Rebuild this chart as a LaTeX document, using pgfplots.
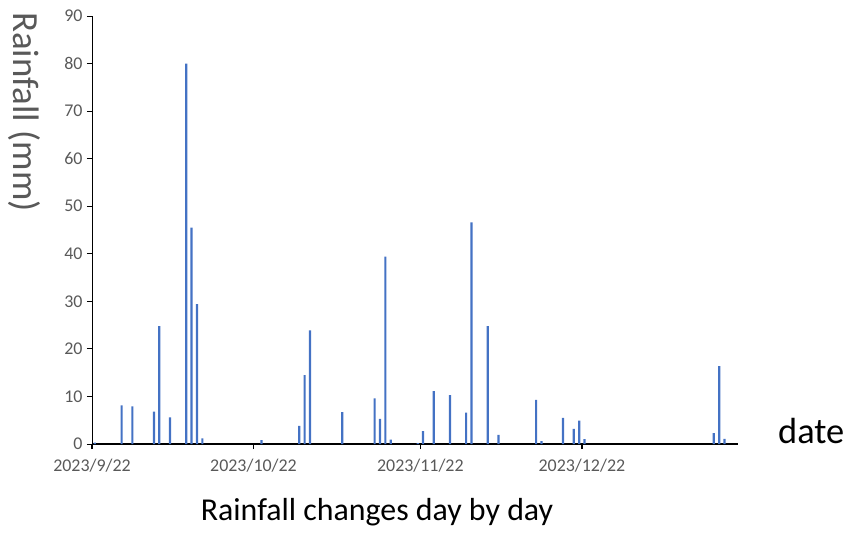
\documentclass[border=0pt]{standalone}
\usepackage{pgfplots}
\pgfplotsset{compat=1.18}
\usepackage{fontspec}
\setmainfont{Carlito}
\definecolor{barblue}{HTML}{4472C4}
\definecolor{ticklab}{HTML}{595959}
\begin{document}
\begin{tikzpicture}
\useasboundingbox (-92bp,-94bp) rectangle (754bp,444bp);
\begin{axis}[
  at={(0bp,0bp)}, anchor=south west,
  scale only axis, width=646bp, height=428bp,
  xmin=-0.5, xmax=119.5, ymin=0, ymax=90,
  axis lines*=left,
  x axis line style={line width=1.8bp, black},
  y axis line style={line width=0.9bp, black},
  xtick={-0.5,29.5,60.5,90.5},
  xticklabels={2023/9/22,2023/10/22,2023/11/22,2023/12/22},
  ytick={0,10,...,90},
  tick align=outside,
  major tick length=5bp,
  xtick style={line width=1.6bp, black},
  ytick style={line width=0.9bp, black},
  /pgf/number format/assume math mode=true,
  ticklabel style={font=\fontsize{18}{18}\selectfont, text=ticklab},
  xticklabel style={yshift=-7bp},
  yticklabel style={xshift=-1bp},
  ybar, bar width=2.2bp,
  clip=false,
]
\addplot[fill=barblue, draw=none] coordinates {
(0,0.3) (5,8.1) (7,7.9) (11,6.8) (12,24.8) (14,5.6) (17,80) (18,45.5) (19,29.4) (20,1.2)
(31,0.8) (38,3.8) (39,14.5) (40,23.9) (46,6.7)
(52,9.6) (53,5.3) (54,39.4) (55,0.9) (60,0.2) (61,2.7) (63,11.1) (66,10.3) (69,6.6) (70,46.6)
(73,24.8) (75,1.9) (82,9.3) (83,0.6) (87,5.5) (89,3.2) (90,4.9) (91,1.0)
(115,2.3) (116,16.4) (117,1.1)
};
\end{axis}
\node[rotate=-90, font=\fontsize{37}{37}\selectfont, text=ticklab] at (-68bp,332bp) {Rainfall (mm)};
\node[anchor=base west, inner sep=0pt, font=\fontsize{36.5}{36.5}\selectfont] at (686bp,1bp) {date};
\node[anchor=base, inner sep=0pt, font=\fontsize{32}{32}\selectfont] at (377bp-92bp,-76bp) {Rainfall changes day by day};
\end{tikzpicture}
\end{document}
